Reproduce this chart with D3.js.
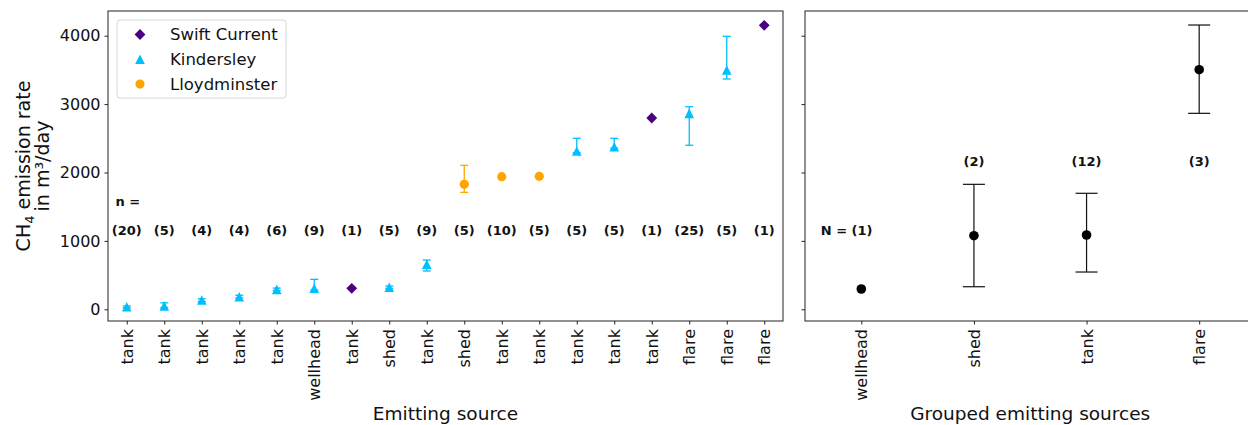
<!DOCTYPE html>
<html>
<head>
<meta charset="utf-8">
<script src="https://cdn.jsdelivr.net/npm/d3@7"></script>
<style>
  body { margin: 0; background: #fff; }
  text { font-family: "DejaVu Sans", sans-serif; }
</style>
</head>
<body>
<div id="chart"></div>
<script>
// ── Data: individual emitting sources (left panel) ─────────────────────────
const sources = ['tank', 'tank', 'tank', 'tank', 'tank', 'wellhead', 'tank', 'shed', 'tank',
  'shed', 'tank', 'tank', 'tank', 'tank', 'tank', 'flare', 'flare', 'flare'];
const sites = ['Kindersley', 'Kindersley', 'Kindersley', 'Kindersley', 'Kindersley', 'Kindersley',
  'Swift Current', 'Kindersley', 'Kindersley', 'Lloydminster', 'Lloydminster', 'Lloydminster',
  'Kindersley', 'Kindersley', 'Swift Current', 'Kindersley', 'Kindersley', 'Swift Current'];
const rates = [38, 50, 136, 184, 292, 307, 307, 322, 658, 1827, 1939, 1944, 2314, 2377, 2797, 2865, 3499, 4152];
const rateLow = [25, 25, 115, 165, 275, 280, null, 305, 560, 1710, null, null, 2290, 2355, null, 2398, 3367, null];
const rateHigh = [50, 95, 155, 205, 310, 438, null, 340, 720, 2105, null, null, 2500, 2500, null, 2962, 3991, null];
const counts = ['(20)', '(5)', '(4)', '(4)', '(6)', '(9)', '(1)', '(5)', '(9)', '(5)', '(10)', '(5)',
  '(5)', '(5)', '(1)', '(25)', '(5)', '(1)'];

// ── Data: grouped sources (right panel) ────────────────────────────────────
const groups = ['wellhead', 'shed', 'tank', 'flare'];
const groupRates = [297, 1076, 1086, 3503];
const groupLow = [null, 330, 545, 2865];
const groupHigh = [null, 1827, 1696, 4156];
const groupCounts = ['N = (1)', '(2)', '(12)', '(3)'];
const groupCountY = [1160, 2158, 2158, 2158];

const siteNames = ['Swift Current', 'Kindersley', 'Lloydminster'];
const siteColors = { 'Swift Current': '#4b0082', 'Kindersley': '#00bfff', 'Lloydminster': '#ffa500' };
const siteShapes = { 'Swift Current': 'diamond', 'Kindersley': 'triangle', 'Lloydminster': 'circle' };
const yTicks = [0, 1000, 2000, 3000, 4000];

const W = 1248, H = 425;
const yTop = 11, yBot = 321;
const L = { x0: 108, x1: 783 };
const R = { x0: 805, x1: 1255.5 };

const svg = d3.select('#chart').append('svg').attr('width', W).attr('height', H);

const y = d3.scaleLinear().domain([-171, 4361]).range([yBot, yTop]);
const xL = d3.scaleLinear().domain([-0.5, sources.length - 0.5]).range([L.x0, L.x1]);
const xR = d3.scaleLinear().domain([-0.5, groups.length - 0.5]).range([R.x0, R.x1]);

function marker(g, shape, cx, cy, color) {
  if (shape === 'circle') {
    g.append('circle').attr('cx', cx).attr('cy', cy).attr('r', 4.6).attr('fill', color);
  } else if (shape === 'triangle') {
    const s = 4.8;
    g.append('path').attr('d', `M${cx},${cy - s}L${cx - s},${cy + s}L${cx + s},${cy + s}Z`).attr('fill', color);
  } else {
    const s = 5.4;
    g.append('path').attr('d', `M${cx},${cy - s}L${cx + s},${cy}L${cx},${cy + s}L${cx - s},${cy}Z`).attr('fill', color);
  }
}

function errorBar(g, cx, lo, hi, half, color, width) {
  g.append('line').attr('x1', cx).attr('x2', cx).attr('y1', y(lo)).attr('y2', y(hi))
    .attr('stroke', color).attr('stroke-width', width);
  [lo, hi].forEach(v => g.append('line').attr('x1', cx - half).attr('x2', cx + half)
    .attr('y1', y(v)).attr('y2', y(v)).attr('stroke', color).attr('stroke-width', width));
}

function frame(x0, x1) {
  svg.append('rect').attr('x', x0).attr('y', yTop).attr('width', x1 - x0).attr('height', yBot - yTop)
    .attr('fill', 'none').attr('stroke', '#222').attr('stroke-width', 1);
}

function yAxis(x0, labels) {
  const ax = svg.append('g').attr('transform', `translate(${x0},0)`)
    .call(d3.axisLeft(y).tickValues(yTicks).tickSize(3.5).tickPadding(4).tickFormat(labels ? d3.format('d') : ''));
  ax.select('.domain').remove();
  ax.selectAll('line').attr('stroke', '#222');
  ax.selectAll('text').attr('font-size', 16).attr('fill', '#111').attr('font-family', 'DejaVu Sans');
}

function xAxis(scale, names) {
  const ax = svg.append('g').attr('transform', `translate(0,${yBot})`)
    .call(d3.axisBottom(scale).tickValues(d3.range(names.length)).tickSize(3.5)
      .tickFormat(i => names[i]));
  ax.select('.domain').remove();
  ax.selectAll('line').attr('stroke', '#222');
  ax.selectAll('text')
    .attr('font-size', 16).attr('fill', '#111').attr('font-family', 'DejaVu Sans')
    .attr('transform', 'rotate(-90)')
    .attr('text-anchor', 'end')
    .attr('x', -8).attr('y', 0).attr('dy', '0.35em');
}

// ── Left panel ─────────────────────────────────────────────────────────────
yAxis(L.x0, true);
xAxis(xL, sources);
const gl = svg.append('g');
sources.forEach((s, i) => {
  const c = siteColors[sites[i]];
  if (rateLow[i] != null) errorBar(gl, xL(i), rateLow[i], rateHigh[i], 4, c, 1.3);
  marker(gl, siteShapes[sites[i]], xL(i), y(rates[i]), c);
});
gl.selectAll('text.cnt').data(counts).join('text').attr('class', 'cnt')
  .attr('x', (d, i) => xL(i)).attr('y', y(1160)).attr('dy', '0.35em')
  .attr('text-anchor', 'middle').attr('font-size', 13).attr('font-weight', 'bold').attr('fill', '#111')
  .text(d => d);
gl.append('text').attr('x', xL(-0.3)).attr('y', y(1570)).attr('dy', '0.35em')
  .attr('font-size', 13).attr('font-weight', 'bold').attr('fill', '#111').text('n =');
frame(L.x0, L.x1);

// legend
const lg = svg.append('g').attr('transform', 'translate(117,20)');
lg.append('rect').attr('width', 169).attr('height', 78).attr('rx', 3)
  .attr('fill', '#fff').attr('fill-opacity', 0.85).attr('stroke', '#d6d6d6');
siteNames.forEach((n, i) => {
  const ly = 14.5 + i * 24.8;
  marker(lg, siteShapes[n], 23, ly, siteColors[n]);
  lg.append('text').attr('x', 53).attr('y', ly).attr('dy', '0.35em')
    .attr('font-size', 16.5).attr('fill', '#111').text(n);
});

// y-axis title
const yt = svg.append('text').attr('transform', `translate(0,${(yTop + yBot) / 2}) rotate(-90)`)
  .attr('text-anchor', 'middle').attr('font-size', 19).attr('fill', '#111');
const l1 = yt.append('tspan').attr('x', 0).attr('y', 30);
l1.append('tspan').text('CH');
l1.append('tspan').attr('font-size', 13).attr('dy', 4).text('4');
l1.append('tspan').attr('dy', -4).text(' emission rate');
yt.append('tspan').attr('x', 0).attr('y', 49).text('in m³/day');

svg.append('text').attr('x', (L.x0 + L.x1) / 2).attr('y', 420).attr('text-anchor', 'middle')
  .attr('font-size', 18.5).attr('fill', '#111').text('Emitting source');

// ── Right panel ────────────────────────────────────────────────────────────
yAxis(R.x0, false);
xAxis(xR, groups);
const gr = svg.append('g');
groups.forEach((gname, i) => {
  if (groupLow[i] != null) errorBar(gr, xR(i), groupLow[i], groupHigh[i], 11, '#111', 1.2);
  gr.append('circle').attr('cx', xR(i)).attr('cy', y(groupRates[i])).attr('r', 4.8).attr('fill', '#000');
});
gr.selectAll('text.gc').data(groupCounts).join('text').attr('class', 'gc')
  .attr('x', (d, i) => xR(i === 0 ? i - 0.13 : i)).attr('y', (d, i) => y(groupCountY[i])).attr('dy', '0.35em')
  .attr('text-anchor', 'middle').attr('font-size', 13).attr('font-weight', 'bold').attr('fill', '#111')
  .text(d => d);
frame(R.x0, R.x1);

svg.append('text').attr('x', (R.x0 + R.x1) / 2).attr('y', 420).attr('text-anchor', 'middle')
  .attr('font-size', 18.5).attr('fill', '#111').text('Grouped emitting sources');
</script>
</body>
</html>
